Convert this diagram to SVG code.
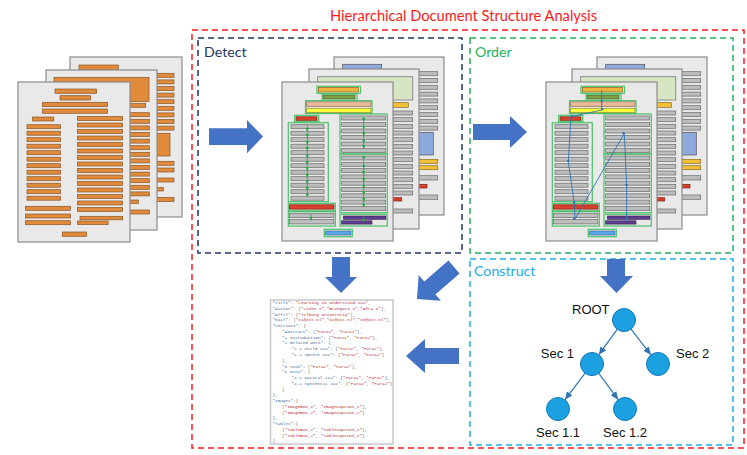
<svg xmlns="http://www.w3.org/2000/svg" xmlns:xlink="http://www.w3.org/1999/xlink" width="747" height="455" viewBox="0 0 747 455">
<defs>
<style>
.pg{fill:#E9E9E9;stroke:#8C8C8C;stroke-width:1.2}
.gb{fill:#BDBDBD;stroke:#6A6A6A;stroke-width:0.7}
.ob{fill:#E08A3C;stroke:#8B5527;stroke-width:0.7}
.gx{fill:none;stroke:#4CC06A;stroke-width:1.2}
.big{fill:#4472C4}
.lbl{font-family:Lato,"Open Sans",sans-serif;font-size:14.2px}
.tl{font-family:"Liberation Sans",Arial,sans-serif;font-size:13px;fill:#111}
.js{font-family:"Liberation Mono",monospace;font-size:4.3px;fill:#666}
.k{fill:#3F6C96}
.v{fill:#B22B2B}
.node{fill:#1BA1E2;stroke:#1679B8;stroke-width:1}
.tedge{stroke:#2E75B6;stroke-width:1.2;fill:none}
</style>
<marker id="ma" markerUnits="userSpaceOnUse" markerWidth="9" markerHeight="8" refX="8" refY="3.5" orient="auto"><path d="M0,0 L8,3.5 L0,7 z" fill="#2E75B6"/></marker>
<marker id="mg" markerUnits="userSpaceOnUse" markerWidth="4" markerHeight="4" refX="2" refY="1.75" orient="auto"><path d="M0,0 L3.5,1.75 L0,3.5 z" fill="#22A845"/></marker>
<marker id="mb" markerUnits="userSpaceOnUse" markerWidth="4" markerHeight="4" refX="2" refY="1.5" orient="auto"><path d="M0,0 L3,1.5 L0,3 z" fill="#2E75B6"/></marker>

<g id="bG">
<rect class="pg" x="0" y="0" width="110" height="158"/>
<rect x="8.7" y="7.3" width="39" height="5" fill="#8EA9DB" stroke="#555" stroke-width="0.7"/>
<rect class="gb" x="56" y="14.7" width="47.7" height="4"/>
<rect class="gb" x="56" y="21.5" width="47.7" height="4"/>
<rect class="gb" x="56" y="28.3" width="47.7" height="4"/>
<rect class="gb" x="56" y="35.1" width="47.7" height="4"/>
<rect class="gb" x="56" y="41.9" width="47.7" height="4"/>
<rect class="gb" x="56" y="48.7" width="47.7" height="4"/>
<rect class="gb" x="56" y="55.5" width="47.7" height="4"/>
<rect class="gb" x="56" y="62.3" width="47.7" height="4"/>
<rect class="gb" x="56" y="69.1" width="47.7" height="4"/>
<rect x="60" y="75.3" width="39.3" height="22.7" fill="#8EA9DB" stroke="#555" stroke-width="0.7"/>
<rect x="56" y="102.3" width="47.7" height="4" fill="#F2C037" stroke="#8A6A20" stroke-width="0.7"/>
<rect x="56" y="108.7" width="47.7" height="4" fill="#F2C037" stroke="#8A6A20" stroke-width="0.7"/>
<rect class="gb" x="56" y="118.7" width="47.7" height="4.3"/>
<rect x="80" y="127.3" width="13" height="3.7" fill="#D8402B" stroke="#7A2010" stroke-width="0.7"/>
<rect class="gb" x="56" y="138" width="47.7" height="4.3"/>
</g>

<g id="mG">
<rect class="pg" x="0" y="0" width="110" height="160"/>
<rect x="8.7" y="7.7" width="95" height="23.3" fill="#D6E6C2" stroke="#8C8C8C" stroke-width="1"/>
<rect x="55" y="33.7" width="44.3" height="4.6" fill="#F2C037" stroke="#8A6A20" stroke-width="0.7"/>
<rect class="gb" x="56" y="42" width="47.7" height="4"/>
<rect class="gb" x="56" y="48.7" width="47.7" height="4"/>
<rect class="gb" x="56" y="55.3" width="47.7" height="4"/>
<rect class="gb" x="56" y="62" width="47.7" height="4"/>
<rect class="gb" x="56" y="68.7" width="47.7" height="4"/>
<rect class="gb" x="56" y="75.3" width="47.7" height="4"/>
<rect class="gb" x="56" y="82" width="47.7" height="4"/>
<rect class="gb" x="56" y="88.7" width="47.7" height="4"/>
<rect class="gb" x="56" y="95.3" width="47.7" height="4"/>
<rect class="gb" x="56" y="102" width="47.7" height="4"/>
<rect class="gb" x="56" y="108.7" width="47.7" height="4"/>
<rect class="gb" x="56" y="115.3" width="47.7" height="4"/>
<rect class="gb" x="56" y="122" width="47.7" height="4"/>
<rect x="83.7" y="128.7" width="9" height="3.3" fill="#D8402B" stroke="#7A2010" stroke-width="0.7"/>
<rect class="gb" x="56" y="140" width="47.7" height="4"/>
</g>

<g id="fG">
<rect class="pg" x="0" y="0" width="111" height="159"/>
<rect x="36.5" y="5.5" width="40" height="4.5" fill="#F2B33D" stroke="#8A6A20" stroke-width="0.7"/>
<rect class="gx" x="35" y="4.3" width="43.5" height="7"/>
<rect x="41" y="13" width="32" height="4" fill="#7E9E46" stroke="#4A5E26" stroke-width="0.7"/>
<rect class="gx" x="40" y="12" width="35" height="6.3"/>
<rect x="24.5" y="19.8" width="64.5" height="4.5" fill="#EBB99B" stroke="#8A6A50" stroke-width="0.7"/>
<rect x="24.5" y="26.3" width="64.5" height="4.3" fill="#FFFF40" stroke="#8A8A20" stroke-width="0.7"/>
<rect class="gx" x="23.5" y="18.7" width="66.5" height="12.8"/>
<rect x="14" y="34.8" width="21" height="3.5" fill="#D8402B" stroke="#7A2010" stroke-width="0.7"/>
<rect class="gx" x="12.7" y="33.3" width="24" height="6.4"/>
<rect class="gb" x="9" y="42.7" width="33" height="4"/>
<rect class="gb" x="9" y="49.2" width="33" height="4"/>
<rect class="gb" x="9" y="55.7" width="33" height="4"/>
<rect class="gb" x="9" y="62.2" width="33" height="4"/>
<rect class="gb" x="9" y="68.7" width="33" height="4"/>
<rect class="gb" x="9" y="75.2" width="33" height="4"/>
<rect class="gb" x="9" y="81.7" width="33" height="4"/>
<rect class="gb" x="9" y="88.2" width="33" height="4"/>
<rect class="gb" x="9" y="94.7" width="33" height="4"/>
<rect class="gb" x="9" y="101.2" width="33" height="4"/>
<rect class="gb" x="9" y="107.7" width="33" height="4"/>
<rect class="gb" x="9" y="114.2" width="33" height="4"/>
<rect class="gx" x="6.3" y="40.7" width="40" height="79"/>
<rect x="7.5" y="122.8" width="44.5" height="4.3" fill="#D8402B" stroke="#7A2010" stroke-width="0.7"/>
<rect class="gx" x="6.3" y="121.3" width="47" height="7.5"/>
<rect class="gb" x="7.5" y="131.3" width="44.5" height="4.3"/>
<rect class="gb" x="7.5" y="137.6" width="44.5" height="4.3"/>
<rect class="gx" x="6.3" y="129.6" width="47" height="14.5"/>
<rect class="gb" x="59.7" y="34" width="44" height="4"/>
<rect class="gb" x="59.7" y="40.5" width="44" height="4"/>
<rect class="gb" x="59.7" y="47" width="44" height="4"/>
<rect class="gb" x="59.7" y="53.5" width="44" height="4"/>
<rect class="gb" x="59.7" y="60" width="44" height="4"/>
<rect class="gb" x="59.7" y="66.5" width="44" height="4"/>
<rect class="gx" x="58" y="32" width="47.3" height="40"/>
<rect class="gb" x="59.7" y="74" width="44" height="4"/>
<rect class="gb" x="59.7" y="80.3" width="44" height="4"/>
<rect class="gb" x="59.7" y="86.6" width="44" height="4"/>
<rect class="gb" x="59.7" y="92.9" width="44" height="4"/>
<rect class="gb" x="59.7" y="99.2" width="44" height="4"/>
<rect class="gb" x="59.7" y="105.5" width="44" height="4"/>
<rect class="gb" x="59.7" y="111.8" width="44" height="4"/>
<rect class="gb" x="59.7" y="118.1" width="44" height="4"/>
<rect class="gb" x="59.7" y="124.4" width="44" height="4"/>
<rect class="gx" x="58" y="72" width="47.3" height="58.7"/>
<rect x="61.3" y="134" width="42.7" height="3.3" fill="#5D3E8E" stroke="#32204E" stroke-width="0.6"/>
<rect x="59.5" y="138.8" width="30.5" height="3.3" fill="#5D3E8E" stroke="#32204E" stroke-width="0.6"/>
<rect class="gx" x="58" y="132.3" width="47.3" height="11.7"/>
<rect x="43.7" y="149" width="25.3" height="4" fill="#5BA5E3" stroke="#2E5E8E" stroke-width="0.6"/>
<rect class="gx" x="42.3" y="147.3" width="28" height="7.4"/>
</g>
</defs>

<text x="463.5" y="21" text-anchor="middle" fill="#FF1A1A" font-family="Lato,'Open Sans',sans-serif" font-size="14.5" textLength="267" lengthAdjust="spacingAndGlyphs">Hierarchical Document Structure Analysis</text>

<g id="frame-hdsa"><rect x="192" y="30" width="552" height="418" fill="none" stroke="#FF1A1A" stroke-width="1.5" stroke-dasharray="6 4"/></g>
<g id="frame-detect"><rect x="198" y="38" width="264" height="215" fill="none" stroke="#1F3864" stroke-width="1.5" stroke-dasharray="6 4"/><text class="lbl" x="204" y="57" fill="#1F3864">Detect</text></g>
<g id="frame-order"><rect x="470" y="38" width="263" height="215" fill="none" stroke="#22B35A" stroke-width="1.5" stroke-dasharray="6 4"/><text class="lbl" x="475" y="57" fill="#22B35A">Order</text></g>
<g id="frame-construct"><rect x="470" y="259" width="263" height="186" fill="none" stroke="#1AAFE6" stroke-width="1.5" stroke-dasharray="6 4"/><text class="lbl" x="474" y="276" fill="#1AAFE6">Construct</text></g>

<g id="input-docs">
<g transform="translate(70,57)">
<rect class="pg" x="0" y="0" width="112" height="160"/>
<rect class="ob" x="9" y="8" width="39.3" height="5"/>
<rect class="ob" x="56" y="16.3" width="48" height="4"/>
<rect class="ob" x="56" y="22.9" width="48" height="4"/>
<rect class="ob" x="56" y="29.5" width="48" height="4"/>
<rect class="ob" x="56" y="36.1" width="48" height="4"/>
<rect class="ob" x="56" y="42.7" width="48" height="4"/>
<rect class="ob" x="56" y="49.3" width="48" height="4"/>
<rect class="ob" x="56" y="55.9" width="48" height="4"/>
<rect class="ob" x="56" y="62.5" width="48" height="4"/>
<rect class="ob" x="56" y="69.1" width="48" height="4"/>
<rect class="ob" x="60" y="76.3" width="40" height="22.7"/>
<rect class="ob" x="56" y="104.3" width="48" height="4"/>
<rect class="ob" x="56" y="111" width="48" height="4"/>
<rect class="ob" x="56" y="121" width="48" height="4"/>
<rect class="ob" x="80" y="130.5" width="13.3" height="3.5"/>
<rect class="ob" x="56" y="140.5" width="48" height="4"/>
</g>
<g transform="translate(46,70)">
<rect class="pg" x="0" y="0" width="111" height="160"/>
<rect class="ob" x="8" y="7.3" width="95" height="24.3"/>
<rect class="ob" x="55" y="33.3" width="44.7" height="4"/>
<rect class="ob" x="56" y="42.7" width="47.3" height="4"/>
<rect class="ob" x="56" y="49.3" width="47.3" height="4"/>
<rect class="ob" x="56" y="55.9" width="47.3" height="4"/>
<rect class="ob" x="56" y="62.5" width="47.3" height="4"/>
<rect class="ob" x="56" y="69.1" width="47.3" height="4"/>
<rect class="ob" x="56" y="75.7" width="47.3" height="4"/>
<rect class="ob" x="56" y="82.3" width="47.3" height="4"/>
<rect class="ob" x="56" y="88.9" width="47.3" height="4"/>
<rect class="ob" x="56" y="95.5" width="47.3" height="4"/>
<rect class="ob" x="56" y="102.1" width="47.3" height="4"/>
<rect class="ob" x="56" y="108.7" width="47.3" height="4"/>
<rect class="ob" x="56" y="115.3" width="47.3" height="4"/>
<rect class="ob" x="56" y="121.9" width="47.3" height="4"/>
<rect class="ob" x="83" y="130" width="9.3" height="3.5"/>
<rect class="ob" x="56" y="140" width="47.3" height="4"/>
</g>
<g transform="translate(18,82)">
<rect class="pg" x="0" y="0" width="112" height="160"/>
<rect class="ob" x="37" y="7" width="41.5" height="4.3"/>
<rect class="ob" x="42" y="13.7" width="30.5" height="4.3"/>
<rect class="ob" x="24.5" y="20.3" width="65" height="4.3"/>
<rect class="ob" x="24.5" y="27" width="65" height="4.3"/>
<rect class="ob" x="14.3" y="35" width="21.5" height="4"/>
<rect class="ob" x="9" y="42.7" width="33.5" height="4"/>
<rect class="ob" x="9" y="49.2" width="33.5" height="4"/>
<rect class="ob" x="9" y="55.7" width="33.5" height="4"/>
<rect class="ob" x="9" y="62.2" width="33.5" height="4"/>
<rect class="ob" x="9" y="68.7" width="33.5" height="4"/>
<rect class="ob" x="9" y="75.2" width="33.5" height="4"/>
<rect class="ob" x="9" y="81.7" width="33.5" height="4"/>
<rect class="ob" x="9" y="88.2" width="33.5" height="4"/>
<rect class="ob" x="9" y="94.7" width="33.5" height="4"/>
<rect class="ob" x="9" y="101.2" width="33.5" height="4"/>
<rect class="ob" x="9" y="107.7" width="33.5" height="4"/>
<rect class="ob" x="9" y="114.2" width="33.5" height="4"/>
<rect class="ob" x="59.5" y="34.5" width="45" height="4"/>
<rect class="ob" x="59.5" y="41" width="45" height="4"/>
<rect class="ob" x="59.5" y="47.5" width="45" height="4"/>
<rect class="ob" x="59.5" y="54" width="45" height="4"/>
<rect class="ob" x="59.5" y="60.5" width="45" height="4"/>
<rect class="ob" x="59.5" y="67" width="45" height="4"/>
<rect class="ob" x="59.5" y="73.5" width="45" height="4"/>
<rect class="ob" x="59.5" y="80" width="45" height="4"/>
<rect class="ob" x="59.5" y="86.5" width="45" height="4"/>
<rect class="ob" x="59.5" y="93" width="45" height="4"/>
<rect class="ob" x="59.5" y="99.5" width="45" height="4"/>
<rect class="ob" x="59.5" y="106" width="45" height="4"/>
<rect class="ob" x="59.5" y="112.5" width="45" height="4"/>
<rect class="ob" x="59.5" y="119" width="45" height="4"/>
<rect class="ob" x="59.5" y="125.5" width="45" height="4"/>
<rect class="ob" x="7.5" y="124.3" width="45" height="4"/>
<rect class="ob" x="7.5" y="132" width="45" height="4"/>
<rect class="ob" x="7.5" y="138.7" width="45" height="4"/>
<rect class="ob" x="62" y="134.3" width="42.7" height="3.5"/>
<rect class="ob" x="59.5" y="139" width="30.7" height="3.5"/>
<rect class="ob" x="44.3" y="150" width="24.3" height="4.3"/>
</g>
</g>

<g id="detect-docs">
<use xlink:href="#bG" x="334" y="57"/>
<use xlink:href="#mG" x="309" y="69"/>
<use xlink:href="#fG" x="282" y="82"/>
<g transform="translate(282,82)" stroke="#22A845" stroke-width="0.8" fill="none">
<polyline points="25.3,43 25.3,48 25.3,54 25.3,61.3 25.3,67.3 25.3,74.7 25.3,81.3 25.3,87.3 25.3,94 25.3,100.7 25.3,107.3 25.3,113.7" marker-mid="url(#mg)" marker-end="url(#mg)"/>
<polyline points="81.7,35 81.7,38 81.7,45.7 81.7,52.3 81.7,59.7 81.7,65.3" marker-mid="url(#mg)" marker-end="url(#mg)"/>
<polyline points="81.7,74 81.7,76.3 81.7,84.7 81.7,91.3 81.7,98 81.7,104.7 81.7,111.3 81.7,118 81.7,124" marker-mid="url(#mg)" marker-end="url(#mg)"/>
<polyline points="29,132 29,137.3" marker-end="url(#mg)"/>
<polyline points="81.7,134 81.7,138.7" marker-end="url(#mg)"/>
</g>
</g>

<g id="order-docs">
<use xlink:href="#bG" x="597" y="57"/>
<use xlink:href="#mG" x="572" y="69"/>
<use xlink:href="#fG" x="546" y="82"/>
<g transform="translate(546,82)">
<polyline points="55.7,8 55.7,19.7 55.7,28 25,34.7 22.3,79.7 28.3,121.3 29,137 78.3,51.3 80.7,104 80.7,138" fill="none" stroke="#2E75B6" stroke-width="0.9" marker-mid="url(#mb)" marker-end="url(#mb)"/>
</g>
</g>

<g id="json">
<rect x="270.5" y="300" width="122.5" height="144" fill="#FFFFFF" stroke="#C8C8C8" stroke-width="1.5"/>
<text class="js" x="272.5" y="304"><tspan class="k">"Title"</tspan>: <tspan class="v">"Learning to Understand XXX"</tspan>,</text>
<text class="js" x="272.5" y="309.8"><tspan class="k">"Author"</tspan>: [<tspan class="v">"Lieke x"</tspan>,<tspan class="v">"Grzegorz x"</tspan>,<tspan class="v">"Afra x"</tspan>],</text>
<text class="js" x="272.5" y="315.5"><tspan class="k">"Affil"</tspan>: [<tspan class="v">"Tilburg University"</tspan>],</text>
<text class="js" x="272.5" y="321.3"><tspan class="k">"Mail"</tspan>: [<tspan class="v">"x1@uvt.nl"</tspan>,<tspan class="v">"x2@uvt.nl"</tspan>,<tspan class="v">"x3@uvt.nl"</tspan>],</text>
<text class="js" x="272.5" y="327.1"><tspan class="k">"Sections"</tspan>: {</text>
<text class="js" x="282" y="332.9"><tspan class="k">"Abstract"</tspan>: [<tspan class="v">"Para1"</tspan>, <tspan class="v">"Para2"</tspan>],</text>
<text class="js" x="282" y="338.6"><tspan class="k">"1 Introduction"</tspan>: [<tspan class="v">"Para1"</tspan>, <tspan class="v">"Para2"</tspan>],</text>
<text class="js" x="282" y="344.4"><tspan class="k">"2 Related work"</tspan>: {</text>
<text class="js" x="291.5" y="350.2"><tspan class="k">"2.1 Child XXX"</tspan>: [<tspan class="v">"Para1"</tspan>, <tspan class="v">"Para2"</tspan>],</text>
<text class="js" x="291.5" y="355.9"><tspan class="k">"2.2 Speech XXX"</tspan>: [<tspan class="v">"Para1"</tspan>, <tspan class="v">"Para2"</tspan>]</text>
<text class="js" x="282" y="361.7">},</text>
<text class="js" x="282" y="367.5"><tspan class="k">"3 Task"</tspan>: [<tspan class="v">"Para1"</tspan>, <tspan class="v">"Para2"</tspan>],</text>
<text class="js" x="282" y="373.2"><tspan class="k">"4 Data"</tspan>: {</text>
<text class="js" x="291.5" y="379"><tspan class="k">"4.1 Natural XXX"</tspan>: [<tspan class="v">"Para1"</tspan>, <tspan class="v">"Para2"</tspan>],</text>
<text class="js" x="291.5" y="384.8"><tspan class="k">"4.2 Synthetic XXX"</tspan>: [<tspan class="v">"Para1"</tspan>, <tspan class="v">"Para2"</tspan>]</text>
<text class="js" x="282" y="390.6">}</text>
<text class="js" x="272.5" y="396.3">},</text>
<text class="js" x="272.5" y="402.1"><tspan class="k">"Images"</tspan>:[</text>
<text class="js" x="282" y="407.9">[<tspan class="v">"ImageBox_1"</tspan>, <tspan class="v">"ImageCaption_1"</tspan>],</text>
<text class="js" x="282" y="413.6">[<tspan class="v">"ImageBox_2"</tspan>, <tspan class="v">"ImageCaption_2"</tspan>]</text>
<text class="js" x="272.5" y="419.4">],</text>
<text class="js" x="272.5" y="425.2"><tspan class="k">"Tables"</tspan>:[</text>
<text class="js" x="282" y="430.9">[<tspan class="v">"TableBox_1"</tspan>, <tspan class="v">"TableCaption_1"</tspan>],</text>
<text class="js" x="282" y="436.7">[<tspan class="v">"TableBox_2"</tspan>, <tspan class="v">"TableCaption_2"</tspan>]</text>
<text class="js" x="272.5" y="442.3">]</text>
</g>

<g id="tree-root"><circle class="node" cx="624" cy="320" r="11.5"/><text class="tl" x="572" y="313.5">ROOT</text></g>
<g id="tree-sec1"><circle class="node" cx="592" cy="364" r="11.5"/><text class="tl" x="574" y="358.3" text-anchor="end">Sec 1</text></g>
<g id="tree-sec2"><circle class="node" cx="658" cy="364" r="11.5"/><text class="tl" x="676" y="358.3">Sec 2</text></g>
<g id="tree-sec11"><circle class="node" cx="558" cy="409" r="11.5"/><text class="tl" x="536" y="436.7">Sec 1.1</text></g>
<g id="tree-sec12"><circle class="node" cx="625" cy="409" r="11.5"/><text class="tl" x="603" y="436.7">Sec 1.2</text></g>

<g id="connectors">
<polygon class="big" points="209,128.3 247,128.3 247,120 263,136.5 247,153.3 247,145 209,145"/>
<polygon class="big" points="473,124 510,124 510,116 527,132 510,148 510,140 473,140"/>
<polygon class="big" points="332,257 350,257 350,277 357,277 341,293 325,277 332,277"/>
<polygon class="big" points="607,259 625,259 625,276 633,276 616.5,293 600,276 607,276"/>
<polygon class="big" transform="translate(454,267) rotate(139.1)" points="0,-8.5 32,-8.5 32,-17 49,0 32,17 32,8.5 0,8.5"/>
<polygon class="big" points="459,348 425,348 425,339 406,356 425,373 425,364 459,364"/>
<line class="tedge" x1="617.2" y1="329.3" x2="598.8" y2="354.7" marker-end="url(#ma)"/>
<line class="tedge" x1="631" y1="329.1" x2="651" y2="354.9" marker-end="url(#ma)"/>
<line class="tedge" x1="585.1" y1="373.2" x2="564.9" y2="399.8" marker-end="url(#ma)"/>
<line class="tedge" x1="598.8" y1="373.3" x2="618.2" y2="399.7" marker-end="url(#ma)"/>
</g>
</svg>
